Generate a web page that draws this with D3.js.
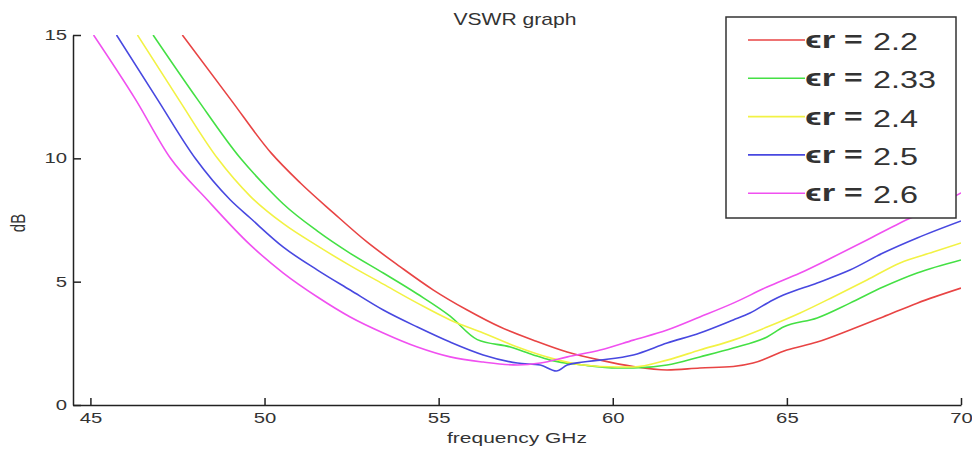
<!DOCTYPE html>
<html>
<head>
<meta charset="utf-8">
<script src="https://cdn.jsdelivr.net/npm/d3@7"></script>
<style>
  body { margin: 0; background: #fff; }
  text { font-family: "Liberation Sans", Arial, sans-serif; fill: #333; }
</style>
</head>
<body>
<svg id="chart"></svg>
<script>
// Datos
const labels = ["2.2", "2.33", "2.4", "2.5", "2.6"];
const colors = ["#e84444", "#44e044", "#f2f244", "#4848e0", "#f050f0"];

const freq22 = [47.64, 49.02, 50.2, 51.03, 51.97, 52.95, 53.9, 54.85, 55.82, 56.77, 57.72, 58.69, 59.64, 60.59, 61.56, 62.5, 63.46, 64.03, 65.0, 65.87, 66.81, 67.76, 68.74, 70];
const db22 = [15, 12.4, 10.2, 9.0, 7.8, 6.6, 5.6, 4.66, 3.85, 3.16, 2.63, 2.15, 1.82, 1.56, 1.42, 1.5, 1.56, 1.7, 2.23, 2.55, 3.04, 3.57, 4.13, 4.74];

const freq233 = [46.8, 48.07, 49.31, 50.08, 50.54, 51.52, 52.46, 53.41, 54.39, 55.33, 56.11, 57.06, 57.72, 58.2, 59.15, 60.13, 60.59, 61.56, 62.5, 63.46, 64.43, 64.9, 65.87, 66.81, 67.76, 68.74, 70];
const db233 = [15, 12.4, 10, 8.8, 8.15, 7.05, 6.15, 5.35, 4.5, 3.6, 2.65, 2.35, 2.03, 1.82, 1.62, 1.5, 1.5, 1.62, 1.95, 2.31, 2.76, 3.16, 3.53, 4.13, 4.78, 5.35, 5.88];

const freq24 = [46.35, 47.53, 48.65, 49.6, 50.54, 51.52, 52.46, 53.41, 54.39, 55.33, 56.28, 57.26, 58.2, 59.15, 60.13, 60.59, 61.56, 62.5, 63.46, 64.43, 65.38, 66.33, 67.3, 68.25, 69.2, 70];
const db24 = [15, 12.4, 10, 8.45, 7.35, 6.45, 5.65, 4.9, 4.13, 3.45, 2.92, 2.35, 1.91, 1.62, 1.54, 1.54, 1.82, 2.23, 2.63, 3.16, 3.73, 4.38, 5.07, 5.76, 6.2, 6.57];

const freq25 = [45.75, 46.92, 48.01, 49.02, 49.59, 50.54, 51.52, 52.46, 53.41, 54.39, 55.33, 56.28, 57.26, 57.92, 58.38, 58.69, 59.15, 59.64, 60.59, 61.56, 62.5, 63.46, 63.94, 64.6, 64.9, 65.87, 66.81, 67.76, 68.74, 70];
const db25 = [15, 12.4, 10, 8.31, 7.58, 6.4, 5.47, 4.66, 3.85, 3.16, 2.55, 2.03, 1.7, 1.62, 1.38, 1.62, 1.74, 1.82, 2.03, 2.51, 2.92, 3.45, 3.73, 4.26, 4.46, 4.95, 5.47, 6.16, 6.77, 7.46];

const freq26 = [45.09, 46.29, 47.3, 48.36, 49.59, 50.54, 51.52, 52.46, 53.41, 54.39, 55.33, 56.28, 57.26, 57.92, 58.7, 59.64, 60.59, 61.56, 62.5, 63.46, 64.43, 65.38, 66.33, 67.3, 68.25, 69.2, 70];
const db26 = [15, 12.4, 10, 8.31, 6.49, 5.35, 4.38, 3.57, 2.92, 2.35, 1.95, 1.74, 1.62, 1.7, 1.95, 2.23, 2.63, 3.04, 3.57, 4.13, 4.78, 5.35, 6.0, 6.69, 7.38, 8.0, 8.6];

const xTicks = [45, 50, 55, 60, 65, 70];
const yTicks = [0, 5, 10, 15];

const freqs = [freq22, freq233, freq24, freq25, freq26];
const dbs = [db22, db233, db24, db25, db26];

// Configuracion
const width = 972;
const height = 452;
const sx = 1.4; // la imagen original esta estirada en horizontal

const svg = d3.select("#chart")
    .attr("width", width)
    .attr("height", height);

svg.append("rect").attr("width", width).attr("height", height).attr("fill", "#fff");

// Escalas
const xScale = d3.scaleLinear().domain([44.5, 70]).range([73, 961]);
const yScale = d3.scaleLinear().domain([0, 15]).range([405, 35]);

svg.append("clipPath").attr("id", "clip")
    .append("rect")
    .attr("x", 73).attr("y", 35)
    .attr("width", 888).attr("height", 370);

// Curvas
const line = d3.line()
    .curve(d3.curveMonotoneX)
    .x(d => xScale(d[0]))
    .y(d => yScale(d[1]));

const seriesData = freqs.map((f, i) => f.map((v, j) => [v, dbs[i][j]]));

svg.append("g")
    .attr("clip-path", "url(#clip)")
    .selectAll("path")
    .data(seriesData)
    .enter()
    .append("path")
    .attr("d", line)
    .attr("fill", "none")
    .attr("stroke", (d, i) => colors[i])
    .attr("stroke-width", 1.6)
    .attr("stroke-linejoin", "round");

// Ejes
const xAxis = d3.axisBottom(xScale)
    .tickValues(xTicks)
    .tickSizeInner(-7)
    .tickSizeOuter(0);
const yAxis = d3.axisLeft(yScale)
    .tickValues(yTicks)
    .tickSizeInner(-8)
    .tickSizeOuter(0);

const gx = svg.append("g")
    .attr("transform", "translate(0,405)")
    .call(xAxis);
const gy = svg.append("g")
    .attr("transform", "translate(73,0)")
    .call(yAxis);

[gx, gy].forEach(g => {
    g.select(".domain").attr("stroke", "#222").attr("stroke-width", 1.5);
    g.selectAll(".tick line").attr("stroke", "#222").attr("stroke-width", 1.5);
    g.selectAll("text")
        .attr("font-size", 14.5)
        .attr("font-family", "Liberation Sans, Arial, sans-serif")
        .attr("fill", "#333");
});

gx.selectAll(".tick text")
    .attr("y", 0)
    .attr("dy", 0)
    .attr("transform", `translate(0,18) scale(${sx},1)`);

gy.selectAll(".tick text")
    .attr("x", 0)
    .attr("transform", `translate(-6,0) scale(${sx},1)`);

// Titulos
svg.append("text")
    .attr("transform", `translate(515,25) scale(1.32,1)`)
    .attr("text-anchor", "middle")
    .attr("font-size", 16)
    .text("VSWR graph");

svg.append("text")
    .attr("transform", `translate(517,443) scale(${sx},1)`)
    .attr("text-anchor", "middle")
    .attr("font-size", 15)
    .text("frequency GHz");

svg.append("text")
    .attr("transform", `translate(25,223) scale(${sx},1) rotate(-90)`)
    .attr("text-anchor", "middle")
    .attr("font-size", 15)
    .text("dB");

// Leyenda
const legend = svg.append("g");
legend.append("rect")
    .attr("x", 726).attr("y", 17)
    .attr("width", 230).attr("height", 201)
    .attr("fill", "#fff")
    .attr("stroke", "#333")
    .attr("stroke-width", 1.5);

const rows = legend.selectAll(".row")
    .data(labels)
    .enter()
    .append("g")
    .attr("class", "row")
    .attr("transform", (d, i) => `translate(0,${40 + i * 38.3})`);

rows.append("line")
    .attr("x1", 748).attr("x2", 805)
    .attr("y1", 0).attr("y2", 0)
    .attr("stroke", (d, i) => colors[i])
    .attr("stroke-width", 1.6);

rows.append("text")
    .attr("transform", `translate(805,8) scale(1.45,1)`)
    .attr("font-size", 24)
    .attr("font-weight", "bold")
    .attr("fill", "#111")
    .text("\u03F5r");

rows.append("text")
    .attr("transform", `translate(844,7) scale(1.45,1)`)
    .attr("font-size", 22)
    .attr("font-weight", "bold")
    .attr("fill", "#111")
    .text("=");

rows.append("text")
    .attr("transform", `translate(873,10) scale(1.35,1)`)
    .attr("font-size", 24)
    .attr("fill", "#111")
    .text(d => d);
</script>
</body>
</html>
